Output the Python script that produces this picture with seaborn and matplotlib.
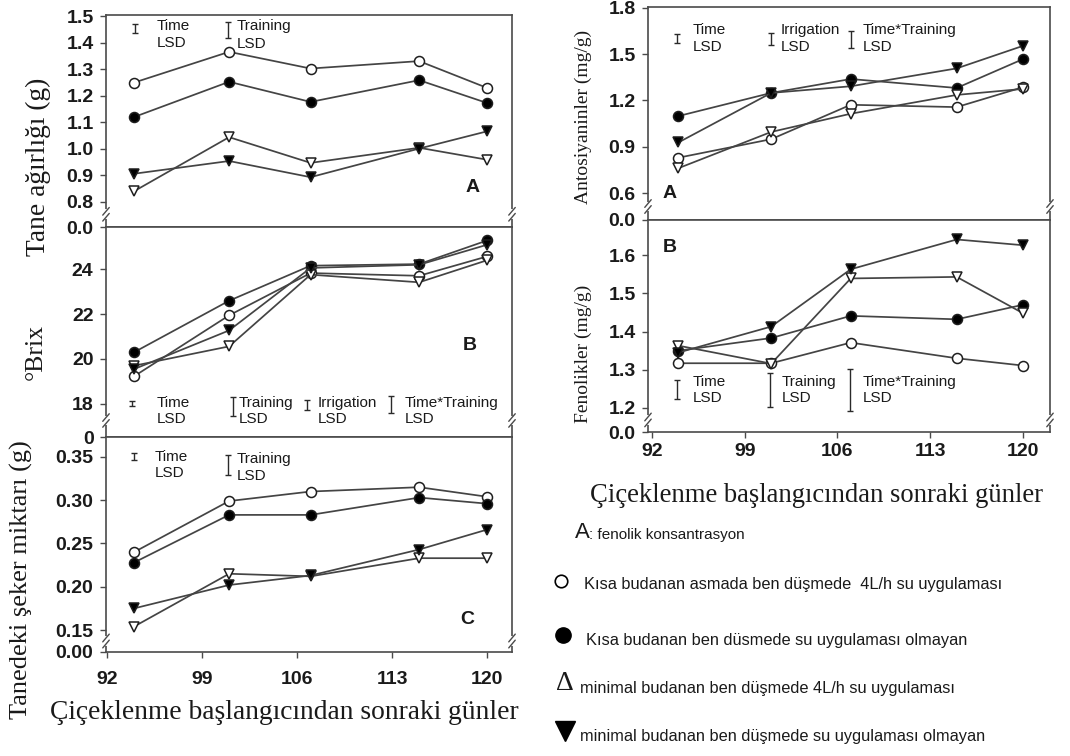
import numpy as np
import pandas as pd
import matplotlib
matplotlib.use("Agg")
import matplotlib.pyplot as plt
import seaborn as sns
from matplotlib.lines import Line2D

sns.set_theme(style="white")
plt.rcParams['font.family'] = ['Liberation Sans', 'DejaVu Sans']

W, H = 1070, 756

# ---------------- data ----------------
days = [94, 101, 107, 115, 120]
x_ticks = [92, 99, 106, 113, 120]
treatments = ["SP_4L", "SP_0", "MP_4L", "MP_0"]

weight_SP_4L = [1.249, 1.365, 1.302, 1.330, 1.229]
weight_SP_0 = [1.119, 1.252, 1.176, 1.258, 1.172]
weight_MP_4L = [0.839, 1.043, 0.946, 1.003, 0.958]
weight_MP_0 = [0.905, 0.953, 0.892, 1.000, 1.065]

brix_SP_4L = [19.23, 21.94, 23.82, 23.70, 24.56]
brix_SP_0 = [20.30, 22.59, 24.15, 24.22, 25.27]
brix_MP_4L = [19.70, 20.56, 23.75, 23.41, 24.39]
brix_MP_0 = [19.55, 21.27, 24.05, 24.19, 25.08]

sugar_SP_4L = [0.240, 0.299, 0.310, 0.315, 0.304]
sugar_SP_0 = [0.228, 0.283, 0.283, 0.303, 0.296]
sugar_MP_4L = [0.154, 0.215, 0.212, 0.233, 0.233]
sugar_MP_0 = [0.175, 0.202, 0.213, 0.243, 0.266]

antho_SP_4L = [0.829, 0.949, 1.172, 1.157, 1.286]
antho_SP_0 = [1.099, 1.249, 1.339, 1.281, 1.468]
antho_MP_4L = [0.761, 0.996, 1.114, 1.236, 1.275]
antho_MP_0 = [0.928, 1.249, 1.292, 1.408, 1.554]

phenol_SP_4L = [1.317, 1.317, 1.371, 1.330, 1.311]
phenol_SP_0 = [1.350, 1.383, 1.441, 1.432, 1.470]
phenol_MP_4L = [1.363, 1.316, 1.539, 1.543, 1.448]
phenol_MP_0 = [1.345, 1.413, 1.563, 1.641, 1.626]

# LSD values (bar lengths)
lsd_weight = [0.034, 0.060]            # Time, Training
lsd_brix = [0.22, 0.84, 0.44, 0.76]    # Time, Training, Irrigation, Time*Training
lsd_sugar = [0.008, 0.023]             # Time, Training
lsd_antho = [0.058, 0.078, 0.110]      # Time, Irrigation, Time*Training
lsd_phenol = [0.050, 0.089, 0.110]     # Time, Training, Time*Training

legend_labels = [
    "Kısa budanan asmada ben düşmede  4L/h su uygulaması",
    "Kısa budanan ben düsmede su uygulaması olmayan",
    "minimal budanan ben düşmede 4L/h su uygulaması",
    "minimal budanan ben düşmede su uygulaması olmayan",
]

# ---------------- style ----------------
LINE = "#444444"
EDGE = "#1e1e1e"
SPINE = "#4a4a4a"
styles = {
    "SP_4L": dict(marker="o", fc="white", ms=7.2),
    "SP_0": dict(marker="o", fc="black", ms=7.2),
    "MP_4L": dict(marker="v", fc="white", ms=7.6),
    "MP_0": dict(marker="v", fc="black", ms=7.6),
}

fig = plt.figure(figsize=(W / 100, H / 100), dpi=100)
fig.patch.set_facecolor("white")


def box(x0, y0, x1, y1):
    return [x0 / W, 1 - y1 / H, (x1 - x0) / W, (y1 - y0) / H]


def draw_series(ax, series):
    for t in treatments:
        st = styles[t]
        sns.lineplot(x=days, y=series[t], ax=ax, color=LINE, linewidth=1.25,
                     marker=st["marker"], markersize=st["ms"],
                     markerfacecolor=st["fc"], markeredgecolor=EDGE,
                     markeredgewidth=1.1, legend=False, zorder=3)


def setup(ax, xlim, ylim, yticks, fmt, zero_label, show_x, xpad):
    ax.set_xlim(xlim)
    ax.set_ylim(ylim)
    ax.set_xticks(x_ticks)
    ax.set_yticks([ylim[0]] + yticks)
    ax.set_yticklabels([zero_label] + [fmt.format(v) for v in yticks])
    if show_x:
        ax.set_xticklabels([str(v) for v in x_ticks])
    else:
        ax.set_xticklabels([])
    ax.set_xlabel("")
    ax.set_ylabel("")
    ax.tick_params(axis="both", which="both", direction="out", length=4,
                   width=1, color=SPINE, labelsize=14, labelcolor="#1a1a1a",
                   left=True, bottom=True)
    ax.tick_params(axis="y", pad=5)
    ax.tick_params(axis="x", pad=xpad)
    for lab in ax.get_xticklabels() + ax.get_yticklabels():
        lab.set_fontweight("bold")
    for sp in ax.spines.values():
        sp.set_color(SPINE)
        sp.set_linewidth(1.2)
    # axis break marks
    yb = ((ylim[0] + yticks[0]) / 2 - ylim[0]) / (ylim[1] - ylim[0])
    for xf in (0, 1):
        ax.plot([xf, xf], [yb - 0.014, yb + 0.014], transform=ax.transAxes,
                color="white", lw=3, clip_on=False, zorder=5)
        for dy in (-0.014, 0.014):
            ax.plot([xf - 0.008, xf + 0.008], [yb + dy - 0.018, yb + dy + 0.018],
                    transform=ax.transAxes, color=SPINE, lw=1, clip_on=False, zorder=6)


def lsd_bar(ax, x, y, val, cap=2.5):
    ax.errorbar([x], [y], yerr=[val / 2], fmt="none", ecolor="#2a2a2a",
                elinewidth=1.0, capsize=cap, capthick=1.0, zorder=4)


def ftext(x, y, s, size=10, **kw):
    fig.text(x / W, 1 - y / H, s, fontsize=size, color="#1a1a1a", **kw)


def lsd_text(x, y1, y2, name, size=11):
    ftext(x, y1, name, size, ha="left", va="center")
    ftext(x, y2, "LSD", size, ha="left", va="center")


# ---------------- left column ----------------
axA = fig.add_axes(box(106, 15, 512, 227))
axB = fig.add_axes(box(106, 227, 512, 437))
axC = fig.add_axes(box(106, 437, 512, 652))

draw_series(axA, dict(zip(treatments, [weight_SP_4L, weight_SP_0, weight_MP_4L, weight_MP_0])))
setup(axA, (91.93, 121.84), (0.704, 1.504), [0.8, 0.9, 1.0, 1.1, 1.2, 1.3, 1.4, 1.5],
      "{:.1f}", "0.0", False, 10)
lsd_bar(axA, 94.07, 1.453, lsd_weight[0])
lsd_bar(axA, 100.92, 1.447, lsd_weight[1])
lsd_text(157, 26, 43, "Time")
lsd_text(237, 26, 44, "Training")
ftext(473, 188, "A", 14, ha="center", va="center", fontweight="bold")

draw_series(axB, dict(zip(treatments, [brix_SP_4L, brix_SP_0, brix_MP_4L, brix_MP_0])))
setup(axB, (91.93, 121.84), (16.53, 25.87), [18, 20, 22, 24],
      "{:d}", "0", False, 10)
lsd_bar(axB, 93.85, 18.03, lsd_brix[0])
lsd_bar(axB, 101.29, 17.89, lsd_brix[1])
lsd_bar(axB, 106.74, 17.96, lsd_brix[2])
lsd_bar(axB, 112.93, 17.98, lsd_brix[3])
lsd_text(157, 403, 419, "Time")
lsd_text(239, 403, 419, "Training")
lsd_text(318, 403, 419, "Irrigation")
lsd_text(405, 403, 419, "Time*Training")
ftext(470, 346, "B", 14, ha="center", va="center", fontweight="bold")

draw_series(axC, dict(zip(treatments, [sugar_SP_4L, sugar_SP_0, sugar_MP_4L, sugar_MP_0])))
setup(axC, (91.93, 121.84), (0.1246, 0.373), [0.15, 0.20, 0.25, 0.30, 0.35],
      "{:.2f}", "0.00", True, 10)
lsd_bar(axC, 93.99, 0.3505, lsd_sugar[0])
lsd_bar(axC, 100.92, 0.3406, lsd_sugar[1])
lsd_text(155, 457, 473, "Time")
lsd_text(237, 459, 476, "Training")
ftext(467, 620, "C", 14, ha="center", va="center", fontweight="bold")

# ---------------- right column ----------------
axRA = fig.add_axes(box(648, 7, 1050, 220))
axRB = fig.add_axes(box(648, 220, 1050, 432))

draw_series(axRA, dict(zip(treatments, [antho_SP_4L, antho_SP_0, antho_MP_4L, antho_MP_0])))
setup(axRA, (91.7, 122.04), (0.425, 1.806), [0.6, 0.9, 1.2, 1.5, 1.8],
      "{:.1f}", "0.0", False, 4)
lsd_bar(axRA, 93.89, 1.601, lsd_antho[0])
lsd_bar(axRA, 100.98, 1.598, lsd_antho[1])
lsd_bar(axRA, 107.02, 1.595, lsd_antho[2])
lsd_text(693, 30, 47, "Time")
lsd_text(781, 30, 47, "Irrigation")
lsd_text(863, 30, 47, "Time*Training")
ftext(670, 193, "A", 14, ha="center", va="center", fontweight="bold")

draw_series(axRB, dict(zip(treatments, [phenol_SP_4L, phenol_SP_0, phenol_MP_4L, phenol_MP_0])))
setup(axRB, (91.7, 122.04), (1.137, 1.692), [1.2, 1.3, 1.4, 1.5, 1.6],
      "{:.1f}", "0.0", True, 4)
lsd_bar(axRB, 93.89, 1.249, lsd_phenol[0])
lsd_bar(axRB, 100.91, 1.248, lsd_phenol[1])
lsd_bar(axRB, 106.95, 1.248, lsd_phenol[2])
lsd_text(693, 382, 398, "Time")
lsd_text(782, 382, 398, "Training")
lsd_text(863, 382, 398, "Time*Training")
ftext(670, 248, "B", 14, ha="center", va="center", fontweight="bold")

# ---------------- axis titles ----------------
SERIF = ["Liberation Serif", "DejaVu Serif"]
ftext(38, 167, "Tane ağırlığı (g)", 19.8, rotation=90, ha="center", va="center", family=SERIF)
ftext(36, 352, "°Brix", 18.5, rotation=90, ha="center", va="center", family=SERIF)
ftext(21, 580, "Tanedeki şeker miktarı (g)", 19, rotation=90, ha="center", va="center", family=SERIF)
ftext(284, 719, "Çiçeklenme başlangıcından sonraki günler", 19.8, ha="center", va="baseline", family=SERIF)
ftext(583, 117, "Antosiyaninler (mg/g)", 14, rotation=90, ha="center", va="center", family=SERIF)
ftext(583, 354, "Fenolikler (mg/g)", 14, rotation=90, ha="center", va="center", family=SERIF)
ftext(816, 495, "Çiçeklenme başlangıcından sonraki günler", 19.2, ha="center", va="center", family=SERIF)

# ---------------- legend block ----------------
ftext(575, 533, "A", 16, ha="left", va="center")
ftext(589, 535, ": fenolik konsantrasyon", 11, ha="left", va="center")

fig.add_artist(Line2D([561 / W], [1 - 581 / H], marker="o", markersize=9,
                      markerfacecolor="white", markeredgecolor="black",
                      markeredgewidth=1.2, transform=fig.transFigure))
fig.add_artist(Line2D([563 / W], [1 - 635 / H], marker="o", markersize=11,
                      markerfacecolor="black", markeredgecolor="black",
                      transform=fig.transFigure))
ftext(565, 684, "Δ", 20, ha="center", va="center", family=SERIF)
fig.add_artist(Line2D([565 / W], [1 - 731 / H], marker="v", markersize=15,
                      markerfacecolor="black", markeredgecolor="black",
                      transform=fig.transFigure))

ftext(584, 585, legend_labels[0], 11.8, ha="left", va="center")
ftext(586, 640, legend_labels[1], 11.8, ha="left", va="center")
ftext(580, 688, legend_labels[2], 11.8, ha="left", va="center")
ftext(580, 737, legend_labels[3], 11.8, ha="left", va="center")

fig.savefig("out.png", dpi=100, facecolor="white")
